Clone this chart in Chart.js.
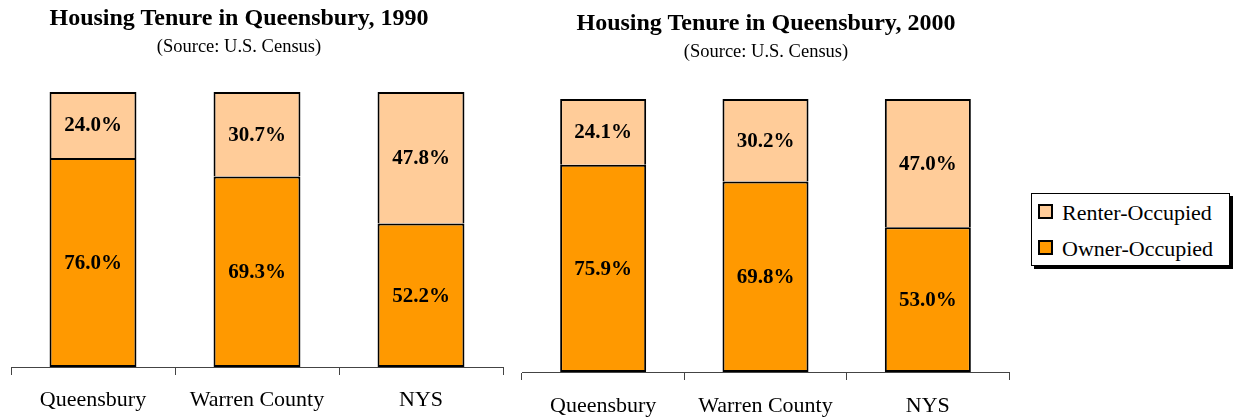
<!DOCTYPE html>
<html>
<head>
<meta charset="utf-8">
<script src="https://cdn.jsdelivr.net/npm/chart.js@4.4.0/dist/chart.umd.min.js"></script>
<style>
    body { margin: 0; background: #fff; width: 1233px; height: 418px; position: relative; overflow: hidden; font-family: "Liberation Serif", serif; }
    .wrap { position: absolute; top: 0; height: 418px; }
    .title { position: absolute; font-weight: bold; font-size: 24px; line-height: 24px; white-space: nowrap; transform: translateX(-50%); }
    .sub { position: absolute; font-size: 18.5px; line-height: 18px; white-space: nowrap; transform: translateX(-50%); }
    #legend { position: absolute; left: 1031px; top: 193px; width: 197px; height: 71px; border: 1px solid #000; box-shadow: 3px 3px 0 #000; background: #fff; }
    .item { position: absolute; left: 6px; font-size: 22px; line-height: 22px; white-space: nowrap; }
    .sw { display: inline-block; width: 11px; height: 11px; border: 2px solid #000; margin-right: 9px; vertical-align: 1px; }
</style>
</head>
<body>
<div class="wrap" style="left:0;width:515px"><canvas id="chart1990" width="515" height="418"></canvas></div>
<div class="wrap" style="left:515px;width:515px"><canvas id="chart2000" width="515" height="418"></canvas></div>

<div class="title" style="left:239px;top:5px">Housing Tenure in Queensbury, 1990</div>
<div class="sub" style="left:239px;top:37px">(Source: U.S. Census)</div>
<div class="title" style="left:766px;top:10px">Housing Tenure in Queensbury, 2000</div>
<div class="sub" style="left:766px;top:42px">(Source: U.S. Census)</div>

<div id="legend">
    <div class="item" style="top:8px"><span class="sw" style="background:#FFCC99"></span>Renter-Occupied</div>
    <div class="item" style="top:44px"><span class="sw" style="background:#FF9900"></span>Owner-Occupied</div>
</div>

<script>
// 데이터
const places = ['Queensbury', 'Warren County', 'NYS'];
const owner1990 = [76.0, 69.3, 52.2];
const renter1990 = [24.0, 30.7, 47.8];
const owner2000 = [75.9, 69.8, 53.0];
const renter2000 = [24.1, 30.2, 47.0];

const OWNER_COLOR = '#FF9900';
const RENTER_COLOR = '#FFCC99';
const FONT = '"Liberation Serif", "Times New Roman", serif';

// 막대 가운데에 퍼센트 표시
const valueLabels = {
    id: 'valueLabels',
    afterDatasetsDraw(chart) {
        const ctx = chart.ctx;
        ctx.save();
        ctx.font = 'bold 21px ' + FONT;
        ctx.fillStyle = '#000';
        ctx.textAlign = 'center';
        ctx.textBaseline = 'middle';
        chart.data.datasets.forEach((ds, i) => {
            chart.getDatasetMeta(i).data.forEach((bar, j) => {
                const p = bar.getProps(['x', 'y', 'base'], true);
                ctx.fillText(ds.data[j].toFixed(1) + '%', p.x, (p.y + p.base) / 2 + 1);
            });
        });
        ctx.restore();
    }
};

function makeChart(id, owner, renter, pad, axisHeight, labelPad) {
    const ctx = document.getElementById(id).getContext('2d');
    return new Chart(ctx, {
        type: 'bar',
        data: {
            labels: places,
            datasets: [
                { label: 'Owner-Occupied', data: owner, backgroundColor: OWNER_COLOR, borderSkipped: false },
                { label: 'Renter-Occupied', data: renter, backgroundColor: RENTER_COLOR, borderSkipped: 'bottom' }
            ]
        },
        options: {
            responsive: false,
            animation: false,
            layout: { padding: pad },
            datasets: {
                bar: {
                    borderColor: '#000',
                    borderWidth: 2,
                    inflateAmount: 0,
                    categoryPercentage: 1,
                    barPercentage: 0.53
                }
            },
            plugins: {
                legend: { display: false },
                tooltip: { enabled: false }
            },
            scales: {
                x: {
                    stacked: true,
                    border: { display: true, color: '#444', width: 1 },
                    grid: { drawOnChartArea: false, drawTicks: true, tickLength: 8, color: '#444' },
                    ticks: { color: '#000', padding: labelPad, font: { family: FONT, size: 22 } },
                    afterFit(scale) { scale.height = axisHeight; }
                },
                y: {
                    stacked: true,
                    display: false,
                    min: 0,
                    max: 100
                }
            }
        },
        plugins: [valueLabels]
    });
}

makeChart('chart1990', owner1990, renter1990, { top: 92, left: 11, right: 12, bottom: 0 }, 51, 12);
makeChart('chart2000', owner2000, renter2000, { top: 99, left: 7, right: 21, bottom: 0 }, 46, 13);
</script>
</body>
</html>
